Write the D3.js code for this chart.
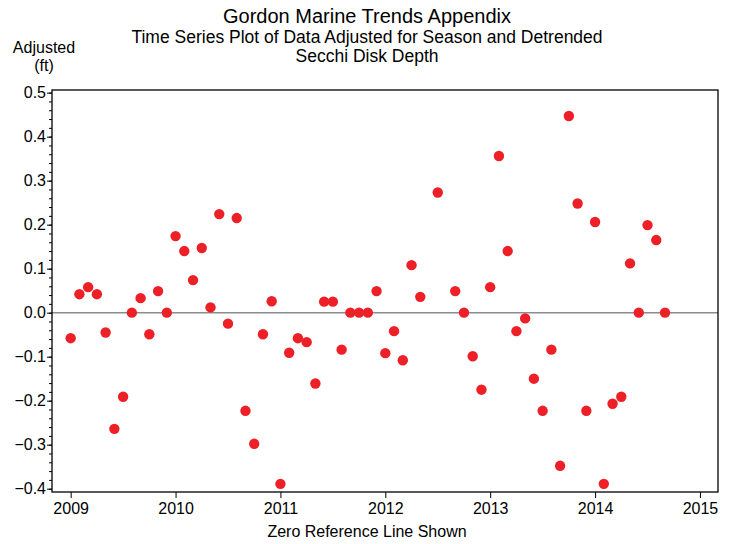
<!DOCTYPE html>
<html>
<head>
<meta charset="utf-8">
<script src="https://cdn.jsdelivr.net/npm/d3@7"></script>
<style>
  body { margin: 0; background: #fff; }
  text { font-family: "Liberation Sans", Arial, sans-serif; fill: #000; }
</style>
</head>
<body>
<svg id="chart" width="735" height="544"></svg>
<script>
// sample months (year-month) and adjusted secchi depth residuals (ft)
var months = [
  "2009-01","2009-02","2009-03","2009-04","2009-05","2009-06","2009-07","2009-08","2009-09","2009-10","2009-11","2009-12",
  "2010-01","2010-02","2010-03","2010-04","2010-05","2010-06","2010-07","2010-08","2010-09","2010-10","2010-11","2010-12",
  "2011-01","2011-02","2011-03","2011-04","2011-05","2011-06","2011-07","2011-08","2011-09","2011-10","2011-11","2011-12",
  "2012-01","2012-02","2012-03","2012-04","2012-05","2012-07","2012-09","2012-10","2012-11","2012-12",
  "2013-01","2013-02","2013-03","2013-04","2013-05","2013-06","2013-07","2013-08","2013-09","2013-10","2013-11","2013-12",
  "2014-01","2014-02","2014-03","2014-04","2014-05","2014-06","2014-07","2014-08","2014-09"
];
var adjusted = [
  -0.058, 0.042, 0.058, 0.042, -0.045, -0.264, -0.191, 0.0, 0.033, -0.049, 0.049, 0.0,
  0.174, 0.140, 0.074, 0.147, 0.012, 0.224, -0.025, 0.215, -0.223, -0.298, -0.049, 0.026,
  -0.389, -0.091, -0.058, -0.067, -0.161, 0.025, 0.025, -0.084, 0.0, 0.0, 0.0, 0.049,
  -0.092, -0.042, -0.108, 0.108, 0.036, 0.273, 0.049, 0.0, -0.099, -0.175,
  0.058, 0.356, 0.140, -0.042, -0.013, -0.150, -0.223, -0.084, -0.348, 0.447, 0.248, -0.223,
  0.206, -0.389, -0.207, -0.191, 0.112, 0.0, 0.199, 0.165, 0.0
];
var yearTicks = [2009, 2010, 2011, 2012, 2013, 2014, 2015];
var valueTicks = [-0.4, -0.3, -0.2, -0.1, 0.0, 0.1, 0.2, 0.3, 0.4, 0.5];

var titleLines = ["Gordon Marine Trends Appendix",
                  "Time Series Plot of Data Adjusted for Season and Detrended",
                  "Secchi Disk Depth"];

function toYear(s) {
  var p = s.split("-");
  return +p[0] + (+p[1] - 1) / 12;
}

var data = months.map((m, i) => ({ t: toYear(m), v: adjusted[i] }));

var svg = d3.select("#chart");
var plotLeft = 52, plotRight = 718, plotTop = 90, plotBottom = 492;
var fontFam = "'Liberation Sans', Arial, sans-serif";

var x = d3.scaleLinear().domain([2008.822, 2015.172]).range([plotLeft, plotRight]);
var y = d3.scaleLinear().domain([-0.4075, 0.506]).range([plotBottom, plotTop]);

// titles
svg.append("text")
    .attr("x", 367).attr("y", 23)
    .style("font-size", "20px")
    .style("text-anchor", "middle")
    .text(titleLines[0]);

svg.selectAll(".sub")
  .data(titleLines.slice(1))
  .enter()
  .append("text")
    .classed("sub", true)
    .attr("x", 367)
    .attr("y", (d, i) => 43 + i * 19)
    .style("font-size", "17.5px")
    .style("text-anchor", "middle")
    .text(d => d);

svg.append("text")
    .attr("x", 44).attr("y", 53)
    .style("font-size", "16px")
    .style("text-anchor", "middle")
    .text("Adjusted");
svg.append("text")
    .attr("x", 44).attr("y", 71)
    .style("font-size", "16px")
    .style("text-anchor", "middle")
    .text("(ft)");

// y axis with minor ticks
var yAxis = d3.axisLeft(y)
    .tickValues(valueTicks)
    .tickFormat(d3.format(".1f"))
    .tickSize(5)
    .tickPadding(1);

var yMinor = d3.axisLeft(y)
    .tickValues(d3.range(-20, 26).map(k => k * 0.02))
    .tickFormat("")
    .tickSize(3);

svg.append("g")
    .attr("transform", "translate(" + plotLeft + ",0)")
    .call(yMinor)
    .call(g => g.select(".domain").remove());

svg.append("g")
    .classed("y-axis", true)
    .attr("transform", "translate(" + plotLeft + ",0)")
    .call(yAxis)
    .call(g => g.select(".domain").remove())
    .selectAll("text")
    .style("font-size", "16px")
    .style("font-family", fontFam);

// x axis
var xAxis = d3.axisBottom(x)
    .tickValues(yearTicks)
    .tickFormat(d3.format("d"))
    .tickSize(6)
    .tickPadding(5);

svg.append("g")
    .attr("transform", "translate(0," + plotBottom + ")")
    .call(xAxis)
    .call(g => g.select(".domain").remove())
    .selectAll("text")
    .style("font-size", "16px")
    .style("font-family", fontFam);

svg.append("text")
    .attr("x", 367).attr("y", 537)
    .style("font-size", "16px")
    .style("text-anchor", "middle")
    .text("Zero Reference Line Shown");

// zero reference line
svg.append("line")
    .attr("x1", plotLeft).attr("x2", plotRight)
    .attr("y1", y(0)).attr("y2", y(0))
    .attr("stroke", "#8c8c8c")
    .attr("stroke-width", 1.5);

// frame
svg.append("rect")
    .attr("x", plotLeft).attr("y", plotTop)
    .attr("width", plotRight - plotLeft).attr("height", plotBottom - plotTop)
    .attr("fill", "none")
    .attr("stroke", "#000")
    .attr("stroke-width", 1.3);

svg.selectAll(".dot")
  .data(data)
  .enter()
  .append("circle")
    .classed("dot", true)
    .attr("cx", d => x(d.t))
    .attr("cy", d => y(d.v))
    .attr("r", 5.2)
    .attr("fill", "#ed2027");
</script>
</body>
</html>
